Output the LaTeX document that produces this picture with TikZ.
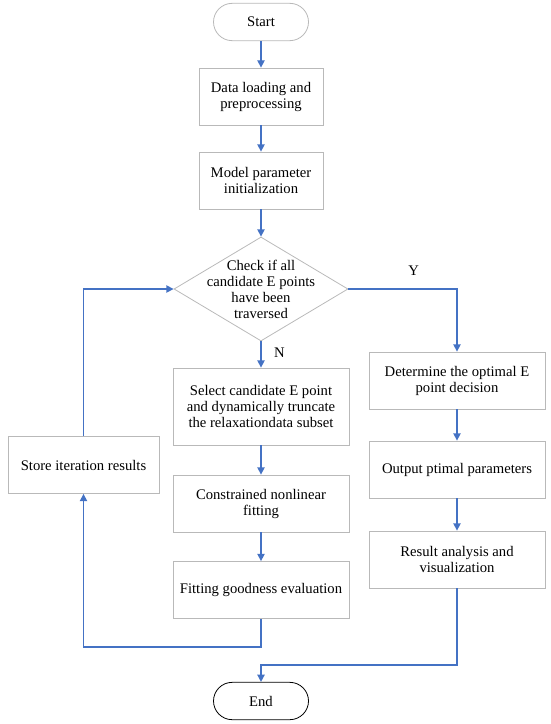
\documentclass[tikz,border=0pt]{standalone}
\usepackage{fontspec}
\setmainfont{Liberation Serif}
\usepackage{tikz}
\usetikzlibrary{arrows.meta,shapes.geometric}
\definecolor{flowblue}{RGB}{68,114,196}
\definecolor{boxgray}{RGB}{185,185,185}

\begin{document}
\begin{tikzpicture}[x=0.75pt,y=-0.75pt,
  font=\fontsize{11}{12}\selectfont,
  box/.style={draw=boxgray,line width=0.6pt,align=center,inner sep=2pt,minimum width=#1,minimum height=42.75pt},
  box/.default=132pt,
  term/.style={draw=#1,line width=0.6pt,rounded corners=14pt,minimum width=71.25pt,minimum height=28pt},
  decision/.style={diamond,draw=boxgray,line width=0.6pt,inner sep=0pt,minimum width=130.5pt,minimum height=78pt},
  arr/.style={flowblue,line width=1.1pt,-{Triangle[width=5.5pt,length=5.5pt]}},
  lbl/.style={text=black,font=\fontsize{11}{12}\selectfont}]
\useasboundingbox (0,0) rectangle (550,724);
% main column
\node[term=boxgray] (start) at (261,22) {Start};
\node[box=93pt] (load) at (261,96.5) {Data loading and\\preprocessing};
\node[box=93pt] (init) at (261,180.5) {Model parameter\\initialization};
\node[decision] (check) at (261,289) {};
\node[align=center] (checktxt) at (check) {Check if all\\candidate E points\\have been\\traversed};
\node[box,minimum height=57.75pt] (select) at (261,406.5) {Select candidate E point\\and dynamically truncate\\the relaxationdata subset};
\node[box] (nlfit) at (261,503.5) {Constrained nonlinear\\fitting};
\node[box] (good) at (261,590) {Fitting goodness evaluation};
\node[term=black] (end) at (261,701) {End};
% loop box
\node[box=113.25pt] (store) at (83.5,465) {Store iteration results};
% right column
\node[box] (best) at (457,380.5) {Determine the optimal E\\point decision};
\node[box] (out) at (457,469.5) {Output ptimal parameters};
\node[box] (result) at (457,559.5) {Result analysis and\\visualization};
% turning points
\coordinate (loopbot) at (83.5,647);
\coordinate (endjoin) at (261,665);
% connectors
\draw[arr] (start) -- (load);
\draw[arr] (load) -- (init);
\draw[arr] (init) -- (check.north);
\draw[arr] (check.south) -- (select) node[lbl,pos=0.45,right=6pt] (no) {N};
\draw[arr] (select) -- (nlfit);
\draw[arr] (nlfit) -- (good);
\draw[arr] (good.south) |- (loopbot) -- (store.south);
\draw[arr] (store.north) |- (check.west);
\draw[arr] (check.east) -| (best.north) node[lbl,pos=0.3,above=6pt] (yes) {Y};
\draw[arr] (best) -- (out);
\draw[arr] (out) -- (result);
\draw[arr] (result.south) |- (endjoin) -- (end.north);
\end{tikzpicture}
\end{document}
